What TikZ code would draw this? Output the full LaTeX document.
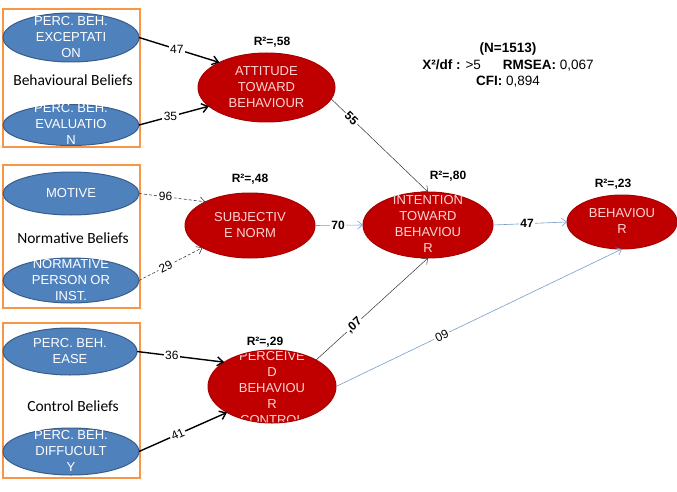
\documentclass[tikz,border=0pt]{standalone}
\usepackage{fontspec}
\setmainfont{Liberation Sans}
\newfontfamily\calib{Carlito}
\usetikzlibrary{shapes.geometric,arrows.meta}

\definecolor{beliefblue}{RGB}{79,129,189}
\definecolor{beliefline}{RGB}{56,93,138}
\definecolor{constrred}{RGB}{192,0,0}
\definecolor{constrline}{RGB}{168,0,0}
\definecolor{constrtext}{RGB}{255,212,212}
\definecolor{boxorange}{RGB}{247,150,70}
\definecolor{pathblue}{RGB}{120,155,205}

\newcommand{\etxt}[1]{\smash{\raisebox{-3.5pt}{\fontsize{13}{16}\selectfont\begin{tabular}{@{}c@{}}#1\end{tabular}}}}

\begin{document}
\begin{tikzpicture}[x=1pt,y=-1pt,
        belief/.style={ellipse,draw=beliefline,line width=1pt,fill=beliefblue,text=white,minimum width=136pt,inner sep=0pt,outer sep=0pt},
        construct/.style={ellipse,draw=constrline,line width=1pt,fill=constrred,text=constrtext,inner sep=0pt,outer sep=0pt},
        group/.style={draw=boxorange,line width=1.3pt,minimum width=137pt,inner sep=0pt},
        grouptext/.style={font=\calib\fontsize{15.5}{18}\selectfont},
        rsq/.style={font=\bfseries\fontsize{12}{14}\selectfont},
        num/.style={fill=white,text=black,inner sep=1.5pt,font=\fontsize{12}{14}\selectfont},
        bnum/.style={num,font=\bfseries\fontsize{12}{14}\selectfont},
        strong/.style={-{Straight Barb[length=6pt,width=9pt]},line width=1.4pt},
        weak/.style={-{Straight Barb[length=5pt,width=8pt]},line width=0.6pt,densely dashed,black!75},
        thinblack/.style={-{Straight Barb[length=5pt,width=8pt]},line width=0.5pt,black!80},
        thinblue/.style={-{Straight Barb[length=5pt,width=8pt]},line width=0.6pt,pathblue}]
        \useasboundingbox (0,0) rectangle (677,492);

        % belief groups
        \node[group,minimum height=138pt] (g1) at (71.5,78) {};
        \node[group,minimum height=143pt] (g2) at (71.5,236.5) {};
        \node[group,minimum height=155pt] (g3) at (71.5,400.5) {};
        \node[grouptext] (bb) at (73,80) {Behavioural Beliefs};
        \node[grouptext] (nb) at (73,238) {Normative Beliefs};
        \node[grouptext] (cb) at (73,406) {Control Beliefs};

        \node[belief,minimum height=49pt] (exc) at (71,37.5) {\etxt{PERC. BEH.\\EXCEPTATI\\ON}};
        \node[belief,minimum height=41pt] (eva) at (71,125) {\etxt{PERC. BEH.\\EVALUATIO\\N}};
        \node[belief,minimum height=43pt] (mot) at (71,193.5) {\etxt{MOTIVE}};
        \node[belief,minimum height=45pt] (nrm) at (71,280.5) {\etxt{NORMATIVE\\PERSON OR\\INST.}};
        \node[belief,minimum width=134pt,minimum height=47pt] (eas) at (70,351.5) {\etxt{PERC. BEH.\\EASE}};
        \node[belief,minimum height=47pt] (dif) at (71,451.5) {\etxt{PERC. BEH.\\DIFFUCULT\\Y}};

        % constructs
        \node[construct,minimum width=137pt,minimum height=69pt] (att) at (266.5,87.5) {\etxt{ATTITUDE\\TOWARD\\BEHAVIOUR}};
        \node[construct,minimum width=130pt,minimum height=65pt] (sub) at (250,225.5) {\etxt{SUBJECTIV\\E NORM}};
        \node[construct,minimum width=128pt,minimum height=73pt,
              path picture={\node[text=constrtext,inner sep=0pt] (pbct) at ([yshift=-2pt]path picture bounding box.center) {\etxt{PERCEIVE\\D\\BEHAVIOU\\R\\CONTROL}};}] (pbc) at (272,386.5) {};
        \node[construct,minimum width=130pt,minimum height=66pt] (int) at (428,225) {\etxt{INTENTION\\TOWARD\\BEHAVIOU\\R}};
        \node[construct,minimum width=110pt,minimum height=54pt] (beh) at (622,222) {\etxt{BEHAVIOU\\R}};

        \node[rsq] (r1) at (272,42) {R²=,58};
        \node[rsq] (r2) at (250,179) {R²=,48};
        \node[rsq] (r3) at (265,342) {R²=,29};
        \node[rsq] (r4) at (448,176) {R²=,80};
        \node[rsq] (r5) at (613,184) {R²=,23};

        \node[font=\fontsize{13.5}{16.5}\selectfont,align=center] (fit) at (508,65)
            {\textbf{(N=1513)}\\\textbf{X²/df :} >5\hspace{22pt}\textbf{RMSEA:} 0,067\\\textbf{CFI:} 0,894};

        % paths
        \draw[strong] (exc.east) -- node[num,pos=0.47] {47} (att.152);
        \draw[strong] (eva.east) -- node[num,pos=0.45] {35} (att.198);
        \draw[weak] (mot.east) -- node[num,pos=0.4] {96} (sub.152);
        \draw[weak] (nrm.east) -- node[num,pos=0.42,sloped] {29} (sub.205);
        \draw[strong] (eas.east) -- node[num,pos=0.4] {36} (pbc.153);
        \draw[strong] (dif.east) -- node[num,pos=0.44,sloped] {41} (pbc.210);
        \draw[thinblack] (att.-10) -- node[bnum,pos=0.21,sloped] {55} (int.north);
        \draw[thinblue] (sub.east) -- node[bnum,pos=0.48] {70} (int.west);
        \draw[thinblack] (pbc.31) -- node[bnum,pos=0.34,sloped] {,07} (int.south);
        \draw[thinblue] (pbc.east) -- node[num,pos=0.37,sloped] {09} (beh.south);
        \draw[thinblue] (int.east) -- node[bnum,pos=0.46] {47} (beh.west);

\end{tikzpicture}
\end{document}
